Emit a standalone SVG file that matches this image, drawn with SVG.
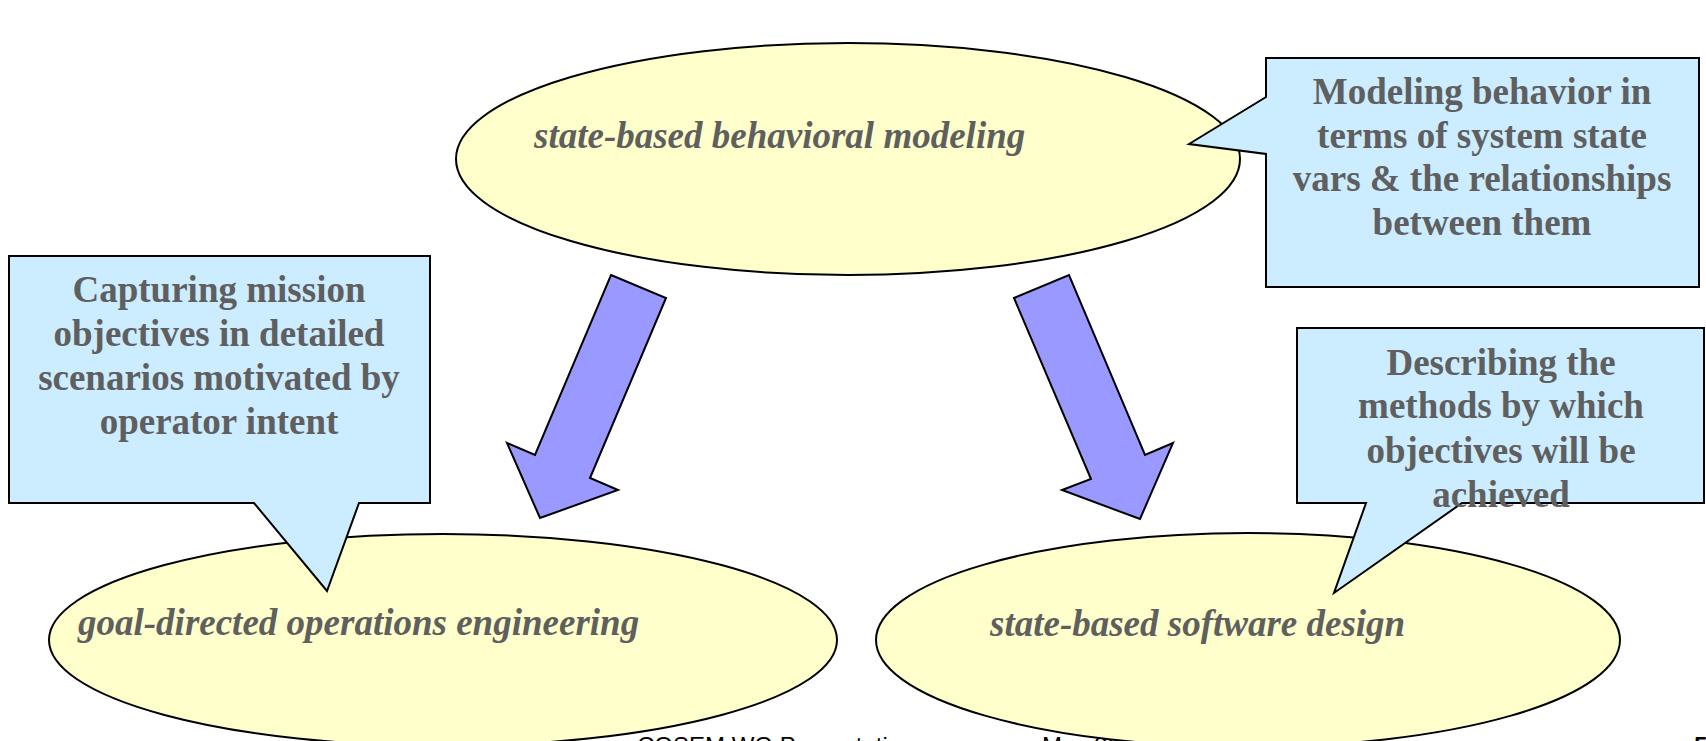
<svg xmlns="http://www.w3.org/2000/svg" width="1706" height="741" viewBox="0 0 1706 741">
  <style>
    .bubble { fill: #ffffcc; stroke: #000; stroke-width: 2; }
    .note { fill: #ccecff; stroke: #000; stroke-width: 2; stroke-linejoin: miter; }
    .arrow { fill: #9999ff; stroke: #000; stroke-width: 2; stroke-linejoin: miter; }
    .label { font-family: "Liberation Serif", "Times New Roman", serif; font-size: 37px; font-weight: bold; font-style: italic; fill: #5f5f5f; }
    .notetext { font-family: "Liberation Serif", "Times New Roman", serif; font-size: 37px; font-weight: bold; fill: #5f5f5f; text-anchor: middle; }
    .footer { font-family: "Liberation Sans", Arial, sans-serif; font-size: 24px; fill: #000; }
  </style>
  <rect width="1706" height="741" fill="#fff"/>

  <!-- footer line, partly hidden behind the lower ellipses -->
  <g id="footer">
    <text class="footer" x="637" y="754">COSEM WG Presentation</text>
    <text class="footer" x="1042" y="754">May 26</text>
    <text class="footer" x="1694" y="754" font-weight="bold">5</text>
  </g>

  <g id="behavioral-modeling">
    <ellipse class="bubble" cx="848" cy="159" rx="392" ry="116"/>
    <text class="label" x="534" y="148">state-based behavioral modeling</text>
  </g>

  <g id="operations-engineering">
    <ellipse class="bubble" cx="443" cy="640" rx="394" ry="106"/>
    <text class="label" x="78" y="635">goal-directed operations engineering</text>
  </g>

  <g id="software-design">
    <ellipse class="bubble" cx="1248" cy="640" rx="372" ry="107"/>
    <text class="label" x="990" y="636">state-based software design</text>
  </g>

  <g id="connectors">
    <path class="arrow" d="M611,275 L666,298 L590,478 L618,490 L540,518 L507,443 L535,455 Z"/>
    <path class="arrow" d="M1014,298 L1069,275 L1145,455 L1173,443 L1140,519 L1062,490 L1091,479 Z"/>
  </g>

  <g id="note-behavior">
    <path class="note" d="M1266,58 H1699 V287 H1266 V154 L1189,144 L1266,97 Z"/>
    <text class="notetext" x="1482" y="104">Modeling behavior in</text>
    <text class="notetext" x="1482" y="147.5">terms of system state</text>
    <text class="notetext" x="1482" y="191">vars &amp; the relationships</text>
    <text class="notetext" x="1482" y="234.5">between them</text>
  </g>

  <g id="note-mission">
    <path class="note" d="M9,256 H430 V503 H359 L327,591 L254,503 H9 Z"/>
    <text class="notetext" x="219" y="302">Capturing mission</text>
    <text class="notetext" x="219" y="346">objectives in detailed</text>
    <text class="notetext" x="219" y="390">scenarios motivated by</text>
    <text class="notetext" x="219" y="434">operator intent</text>
  </g>

  <g id="note-methods">
    <path class="note" d="M1297,328 H1704 V503 H1462 L1334,593 L1366,503 H1297 Z"/>
    <text class="notetext" x="1501" y="375">Describing the</text>
    <text class="notetext" x="1501" y="418">methods by which</text>
    <text class="notetext" x="1501" y="463">objectives will be</text>
    <text class="notetext" x="1501" y="507">achieved</text>
  </g>
</svg>
